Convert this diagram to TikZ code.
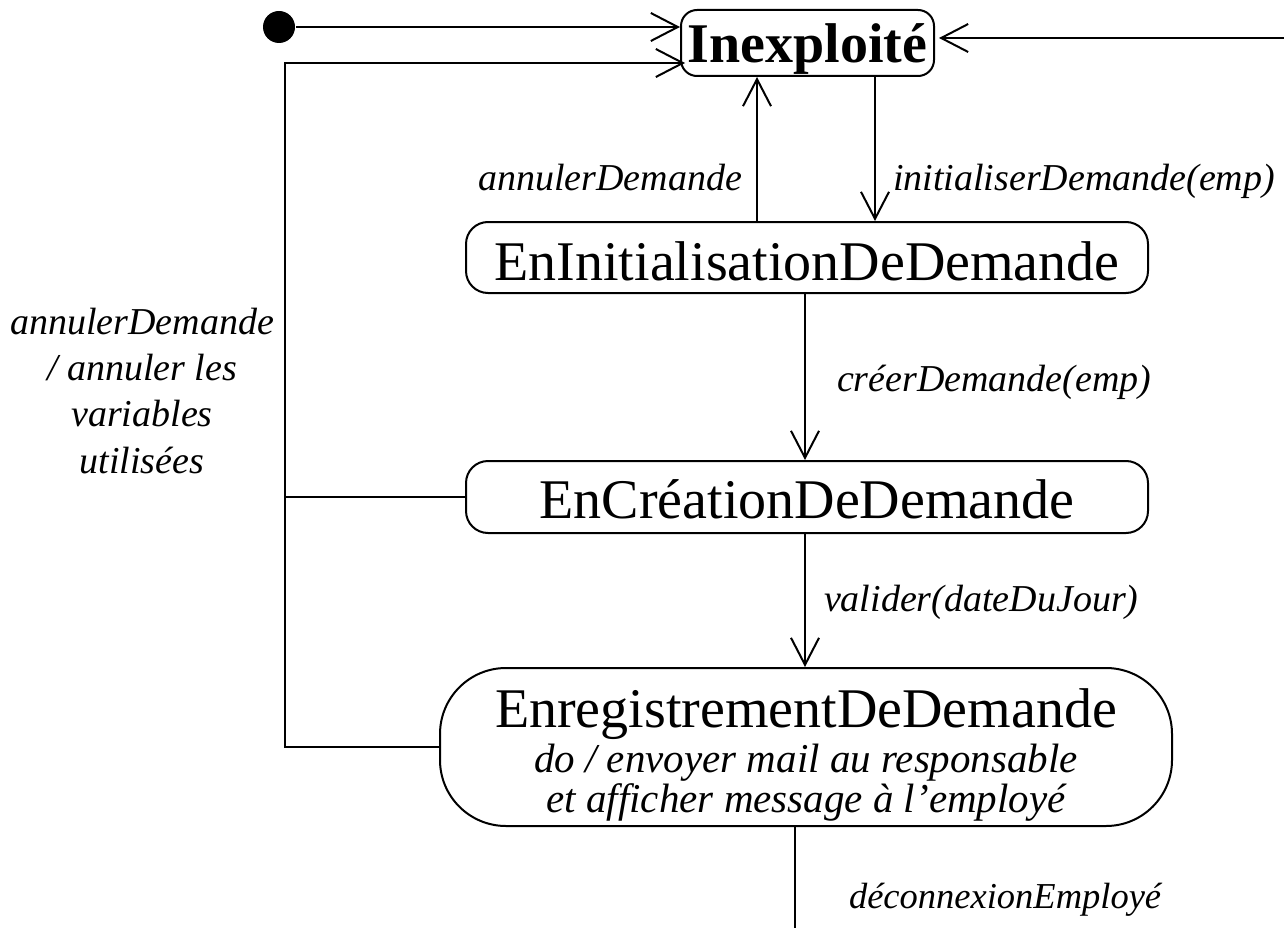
\documentclass[tikz,border=0pt]{standalone}
\usepackage{fontspec}
\setmainfont{Liberation Serif}
\usetikzlibrary{arrows.meta}
\begin{document}
\begin{tikzpicture}[x=1pt,y=-1pt,
  line width=2pt,
  state/.style={draw, line width=2pt, inner sep=0pt, rounded corners=#1},
  bigtext/.style={font=\fontsize{56}{62}\selectfont},
  evt/.style={inner sep=0pt, font=\itshape\fontsize{38}{46.3}\selectfont},
  activity/.style={inner sep=0pt, font=\itshape\fontsize{41}{47}\selectfont},
  tr/.style={-{Straight Barb[length=27pt,width=28pt,line width=2pt]}}
]
\useasboundingbox (0,0) rectangle (1284,928);

% states
\node[state=16pt, minimum width=253, minimum height=66, text height=40, text depth=0,
      font=\bfseries\fontsize{56}{62}\selectfont] (inex) at (807.5,43) {Inexploité};
\node[state=22pt, bigtext, minimum width=682, minimum height=71, text height=45, text depth=0]
      (init) at (807,257.5) {EnInitialisationDeDemande};
\node[state=22pt, bigtext, minimum width=682, minimum height=72, text height=42, text depth=0]
      (crea) at (807,497) {EnCréationDeDemande};
\node[state=66pt, minimum width=732, minimum height=158] (enreg) at (806,747) {};
\node[bigtext, inner sep=0pt, anchor=base] (enregName) at (806,727) {EnregistrementDeDemande};
\node[activity, anchor=base] (enregDo) at (806,772) {do / envoyer mail au responsable};
\node[activity, anchor=base] (enregEt) at (806,812) {et afficher message à l’employé};

% initial pseudo-state
\node[circle, fill, inner sep=0pt, minimum size=32] (start) at (279,27) {};

% helper coordinates for vertical connectors and free ends
\coordinate (xA) at (757,0);
\coordinate (xB) at (875,0);
\coordinate (xC) at (805,0);
\coordinate (cL) at (285,63);
\coordinate (cR) at (1284,38);
\coordinate (cEnd) at (795,928);

% transitions
\draw[tr] (start) -- (start -| inex.west);
\draw[tr] (cR) -- ([xshift=4]cR -| inex.east);
\draw[tr] (enreg.west) -| (cL) -- ([xshift=5]cL -| inex.west);
\draw (crea.west) -- (crea.west -| cL);
\draw[tr] (init.north -| xA) -- (inex.south -| xA);
\draw[tr] (inex.south -| xB) -- (init.north -| xB);
\draw[tr] (init.south -| xC) -- (crea.north -| xC);
\draw[tr] (crea.south -| xC) -- (enreg.north -| xC);
\draw (enreg.south -| cEnd) -- (cEnd);

% transition labels
\node[evt, anchor=base east] (lAnnul) at (743,190) {annulerDemande};
\node[evt, anchor=base west] (lInit) at (892,190) {initialiserDemande(emp)};
\node[evt, anchor=north, align=center] (lCancel) at (142,307)
  {annulerDemande\\/ annuler les\\variables\\utilisées};
\node[evt, anchor=base west] (lCreer) at (836,391) {créerDemande(emp)};
\node[evt, anchor=base west] (lValid) at (823,611) {valider(dateDuJour)};
\node[evt, anchor=base west, font=\itshape\fontsize{36.5}{44}\selectfont] (lDeco) at (848,908)
  {déconnexionEmployé};
\end{tikzpicture}
\end{document}
